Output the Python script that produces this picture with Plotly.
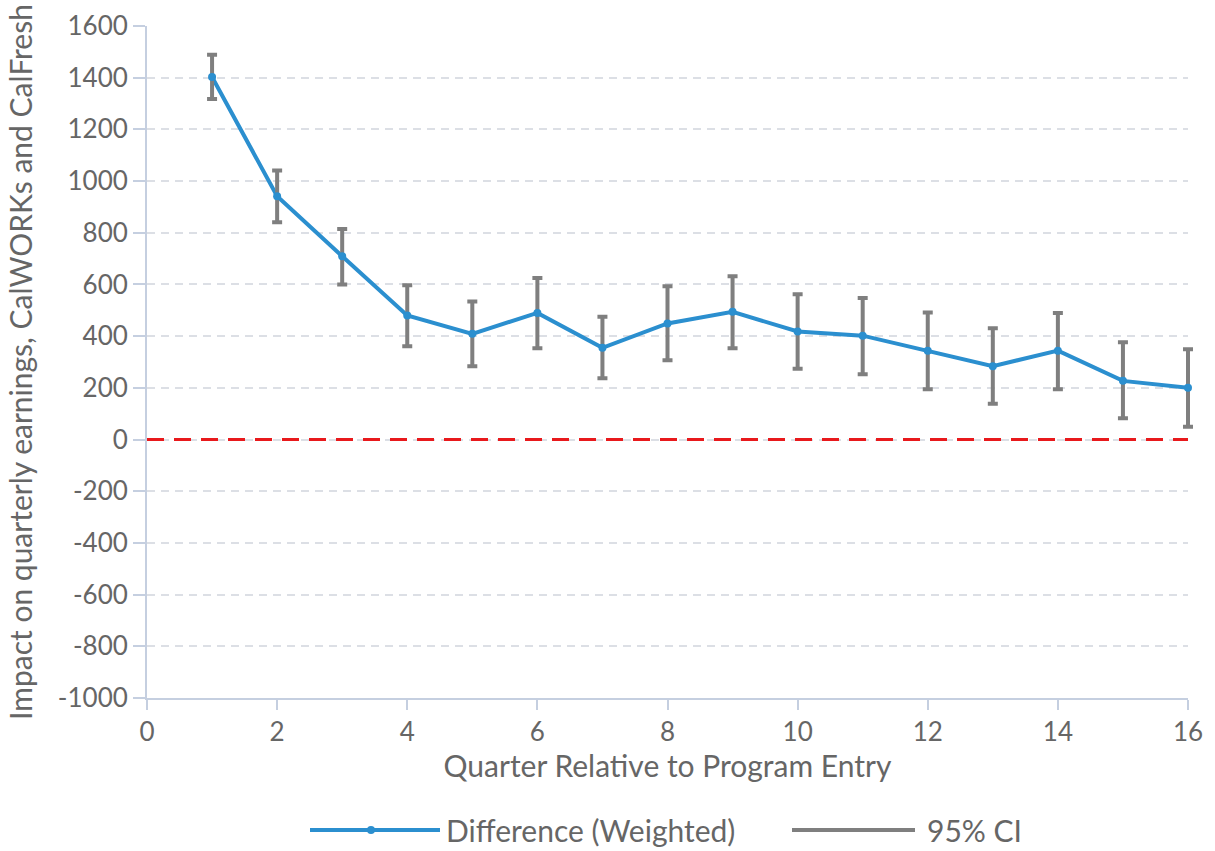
import plotly.graph_objects as go

# Quarter since program entry
quarters = list(range(1, 17))
# Weighted difference in quarterly earnings
impact = [1403, 941, 709, 480, 409, 490, 355, 449, 494, 418, 402, 344, 284, 344, 227, 200]
# 95% confidence bounds
ci_upper = [1489, 1041, 815, 597, 534, 625, 475, 593, 632, 562, 548, 492, 431, 490, 376, 349]
ci_lower = [1318, 841, 600, 361, 284, 353, 237, 307, 353, 274, 253, 195, 138, 195, 82, 49]

y_ticks = [1600, 1400, 1200, 1000, 800, 600, 400, 200, 0, -200, -400, -600, -800, -1000]
y_tick_labels = ["1600", "1400", "1200", "1000", "800", "600", "400", "200", "0",
                 "-200", "-400", "-600", "-800", "-1000"]
x_ticks = [0, 2, 4, 6, 8, 10, 12, 14, 16]

BLUE = "#2b8fcf"
GRAY = "#7f7f7f"
TEXT = "#666666"
AXIS = "#c5cfe0"
FONT = "Lato, 'Open Sans', sans-serif"

X_MAX, Y_MIN, Y_MAX = 16, -1000, 1600

# pixel layout of the main plot area
W, H = 1215, 851
M_L, M_T, M_B = 147, 26, 153
PLOT_W = 1041          # width of the visible axis frame
EXTRA = 10             # room on the right so the last whisker is not clipped
PLOT_H = H - M_T - M_B
FULL_W = PLOT_W + EXTRA

err_plus = [u - v for u, v in zip(ci_upper, impact)]
err_minus = [v - l for v, l in zip(impact, ci_lower)]

fig = go.Figure()

# connecting line
fig.add_trace(go.Scatter(
    x=quarters, y=impact, mode="lines",
    line=dict(color=BLUE, width=4), showlegend=False, hoverinfo="skip",
    xaxis="x", yaxis="y",
))
# confidence interval whiskers (on a wider, hidden overlay so the last one is not clipped)
fig.add_trace(go.Scatter(
    x=quarters, y=impact, mode="markers",
    marker=dict(size=1, opacity=0),
    error_y=dict(type="data", symmetric=False, array=err_plus, arrayminus=err_minus,
                 color=GRAY, thickness=4, width=5),
    showlegend=False, xaxis="x2", yaxis="y2", hoverinfo="skip",
))
# point markers on top
fig.add_trace(go.Scatter(
    x=quarters, y=impact, mode="markers",
    marker=dict(color=BLUE, size=8), showlegend=False, cliponaxis=False,
    xaxis="x2", yaxis="y2",
))

# zero reference line
fig.add_shape(type="line", xref="x", yref="y", x0=0, x1=X_MAX, y0=0, y1=0,
              line=dict(color="#e8191c", width=3, dash="17px,10px"), layer="above")

# legend drawn below the plot area (paper coords relative to the main frame)
def px(v):
    return (v - M_L) / FULL_W


def py(v):
    return (M_T + PLOT_H - v) / PLOT_H


ly = py(830)
fig.add_shape(type="line", xref="paper", yref="paper", x0=px(310), x1=px(440), y0=ly, y1=ly,
              line=dict(color=BLUE, width=4))
fig.add_shape(type="circle", xref="paper", yref="paper", xsizemode="pixel", ysizemode="pixel",
              xanchor=px(371), yanchor=ly, x0=-4, x1=4, y0=-4, y1=4,
              fillcolor=BLUE, line=dict(color=BLUE, width=0))
fig.add_shape(type="line", xref="paper", yref="paper", x0=px(792), x1=px(915), y0=ly, y1=ly,
              line=dict(color=GRAY, width=4))
fig.add_annotation(xref="paper", yref="paper", x=px(444), y=ly, xanchor="left", yanchor="middle",
                   text="Difference (Weighted)", showarrow=False,
                   font=dict(family=FONT, size=30, color=TEXT))
fig.add_annotation(xref="paper", yref="paper", x=px(925), y=ly, xanchor="left", yanchor="middle",
                   text="95% CI", showarrow=False,
                   font=dict(family=FONT, size=30, color=TEXT))

fig.update_layout(
    width=W, height=H,
    margin=dict(l=M_L, r=W - M_L - FULL_W, t=M_T, b=M_B),
    paper_bgcolor="white", plot_bgcolor="rgba(0,0,0,0)",
    font=dict(family=FONT, color=TEXT),
    showlegend=False,
    xaxis=dict(
        domain=[0, PLOT_W / FULL_W], anchor="y",
        range=[0, X_MAX], tickvals=x_ticks, ticks="outside", ticklen=10, tickwidth=1.5,
        tickcolor=AXIS, showline=True, linecolor=AXIS, linewidth=2, showgrid=False,
        zeroline=False, tickfont=dict(family=FONT, size=26, color=TEXT),
        title=dict(text="Quarter Relative to Program Entry", standoff=2,
                   font=dict(family=FONT, size=30, color=TEXT)),
        automargin=False,
    ),
    yaxis=dict(
        anchor="x",
        range=[Y_MIN, Y_MAX], tickvals=y_ticks, ticktext=y_tick_labels, ticks="outside",
        ticklen=12, tickwidth=1.5, tickcolor=AXIS, showline=True, linecolor=AXIS, linewidth=2,
        showgrid=True, gridcolor="#dcdfe5", gridwidth=1.5, griddash="8px,6px", zeroline=False,
        tickfont=dict(family=FONT, size=26, color=TEXT),
        title=dict(text="Impact on quarterly earnings, CalWORKs and CalFresh", standoff=16,
                   font=dict(family=FONT, size=30, color=TEXT)),
        automargin=False,
    ),
    xaxis2=dict(
        domain=[0, 1], anchor="y2", range=[0, X_MAX * FULL_W / PLOT_W],
        visible=False, showgrid=False, zeroline=False, fixedrange=True,
    ),
    yaxis2=dict(
        anchor="x2", range=[Y_MIN, Y_MAX],
        visible=False, showgrid=False, zeroline=False, fixedrange=True,
    ),
)

fig.write_html("out.html")
